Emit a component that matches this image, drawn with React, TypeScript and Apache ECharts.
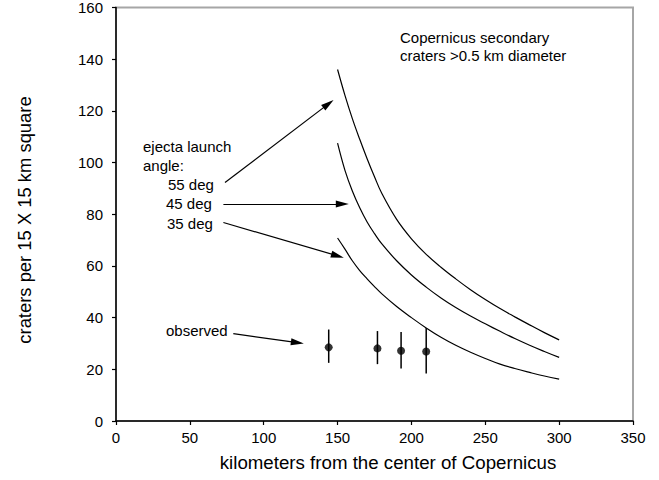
import React, { useEffect, useRef } from "react";
import * as echarts from "echarts";

const xTicks = [0, 50, 100, 150, 200, 250, 300, 350];
const yTicks = [0, 20, 40, 60, 80, 100, 120, 140, 160];

const curveX = [150, 155, 160, 165, 170, 175, 180, 190, 200, 210, 220, 230, 240, 250, 260, 270, 280, 290, 300];
const angle55 = [136, 126, 117, 109, 101.5, 94.5, 88, 78, 70.5, 64.5, 59.5, 55, 50.8, 47, 43.5, 40.3, 37.2, 34.2, 31.4];
const angle45 = [107.5, 97, 89, 82.5, 77, 72.5, 68.5, 62, 56.5, 51.8, 47.6, 43.9, 40.6, 37.6, 34.7, 31.9, 29.3, 26.9, 24.6];
const angle35 = [70.8, 66.5, 62, 58.2, 55, 52, 49.2, 44.3, 40, 36, 32.4, 29.3, 26.6, 24.2, 22, 20.3, 18.8, 17.4, 16.2];

const obsX = [144, 177, 193, 210];
const obsY = [28.5, 28.1, 27.2, 26.9];
const obsLow = [22.5, 22, 20.3, 18.4];
const obsHigh = [35.4, 34.8, 34.4, 36];

// annotation arrows in data units: [x1, y1, x2, y2] (x2,y2 = centre of arrow head)
const arrows = [
  [73.8, 92.3, 143.8, 122.7],
  [72.7, 84, 153.2, 84],
  [72.7, 76.8, 150, 63.9],
  [79.4, 33.8, 122.8, 30.3],
];

const FONT = '"Liberation Sans", Arial, sans-serif';

export default function App() {
  const ref = useRef<HTMLDivElement>(null);
  useEffect(() => {
    if (!ref.current) return;
    const chart = echarts.init(ref.current, null, { renderer: "svg" });
    const pair = (xs: number[], ys: number[]) => xs.map((x, i) => [x, ys[i]]);
    const lineSeries = (name: string, ys: number[]) => ({
      name,
      type: "line",
      data: pair(curveX, ys),
      showSymbol: false,
      smooth: 0.4,
      silent: true,
      lineStyle: { color: "#000", width: 1.2 },
    });
    const textEl = (text: string, x: number, y: number, size = 15, extra: any = {}) => ({
      type: "text",
      x,
      y,
      ...extra,
      style: {
        text,
        fill: "#000",
        fontSize: size,
        fontFamily: FONT,
        align: extra.align || "left",
        verticalAlign: "middle",
      },
    });
    chart.setOption({
      animation: false,
      backgroundColor: "#fff",
      grid: {
        left: 116,
        top: 6,
        width: 517,
        height: 415,
        show: true,
        borderColor: "#a6a6a6",
        borderWidth: 2,
        backgroundColor: "transparent",
      },
      xAxis: {
        type: "value",
        min: xTicks[0],
        max: xTicks[xTicks.length - 1],
        interval: 50,
        splitLine: { show: false },
        axisLine: { show: true, onZero: false, lineStyle: { color: "#000", width: 1.5 } },
        axisTick: { show: true, inside: false, length: 4, lineStyle: { color: "#000", width: 1.2 } },
        axisLabel: { color: "#000", fontSize: 15, fontFamily: FONT, margin: 9 },
      },
      yAxis: {
        type: "value",
        min: yTicks[0],
        max: yTicks[yTicks.length - 1],
        interval: 20,
        splitLine: { show: false },
        axisLine: { show: true, onZero: false, lineStyle: { color: "#000", width: 1.5 } },
        axisTick: { show: true, inside: false, length: 4, lineStyle: { color: "#000", width: 1.2 } },
        axisLabel: { color: "#000", fontSize: 15, fontFamily: FONT, margin: 13 },
      },
      series: [
        lineSeries("55 deg", angle55),
        lineSeries("45 deg", angle45),
        {
          ...lineSeries("35 deg", angle35),
          markLine: {
            silent: true,
            symbol: ["none", "triangle"],
            symbolSize: [0, 10],
            label: { show: false },
            lineStyle: { color: "#000", width: 1.2, type: "solid" },
            data: arrows.map((a) => [
              { coord: [a[0], a[1]], symbol: "none" },
              { coord: [a[2], a[3]], symbol: "triangle", symbolSize: [7, 13] },
            ]),
          },
        },
        {
          name: "observed error",
          type: "custom",
          silent: true,
          data: obsX.map((x, i) => [x, obsLow[i], obsHigh[i]]),
          renderItem: (params: any, api: any) => {
            const lo = api.coord([api.value(0), api.value(1)]);
            const hi = api.coord([api.value(0), api.value(2)]);
            return {
              type: "line",
              shape: { x1: lo[0], y1: lo[1], x2: hi[0], y2: hi[1] },
              style: { stroke: "#000", lineWidth: 1.5 },
            };
          },
          z: 3,
        },
        {
          name: "observed",
          type: "scatter",
          data: pair(obsX, obsY),
          symbol: "circle",
          symbolSize: 8,
          itemStyle: { color: "#000" },
          silent: true,
          z: 4,
        },
      ],
      graphic: [
        textEl("craters per 15 X 15 km square", 24, 220, 18.4, { rotation: Math.PI / 2, align: "center" }),
        textEl("kilometers from the center of Copernicus", 388, 462, 18.7, { align: "center" }),
        textEl("Copernicus secondary", 400, 37, 15),
        textEl("craters >0.5 km diameter", 400, 55, 15),
        textEl("ejecta launch", 143, 146, 15),
        textEl("angle:", 143, 165, 15),
        textEl("55 deg", 168, 184, 15),
        textEl("45 deg", 166, 203, 15),
        textEl("35 deg", 167, 223, 15),
        textEl("observed", 166, 330, 15),
      ],
    });
    return () => chart.dispose();
  }, []);
  return (
    <div
      ref={ref}
      style={{ position: "absolute", left: 0, top: 0, width: 659, height: 480, background: "#fff" }}
    />
  );
}
